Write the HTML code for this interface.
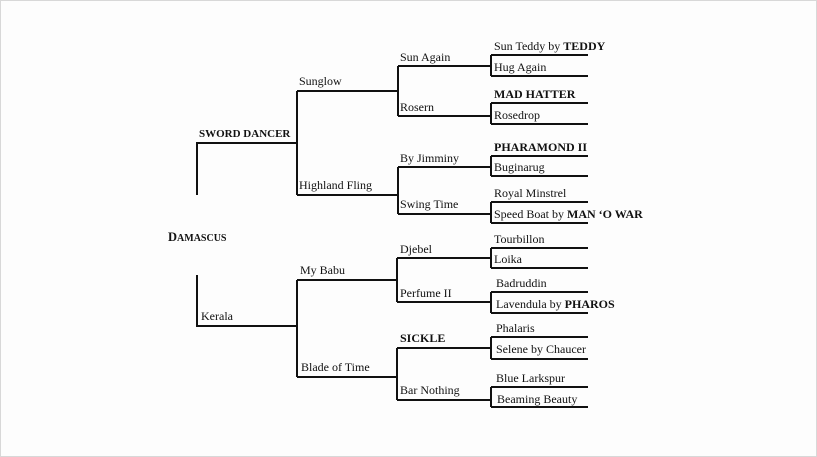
<!DOCTYPE html>
<html><head><meta charset="utf-8"><style>
html,body{margin:0;padding:0;background:#fdfdfd;}
svg{display:block;}
text{font-family:"Liberation Serif",serif;font-size:12px;fill:#111;}
.b{font-weight:bold;}
</style></head><body>
<svg width="817" height="457" viewBox="0 0 817 457" xmlns="http://www.w3.org/2000/svg">
<rect x="0.5" y="0.5" width="816" height="456" fill="#fdfdfd" stroke="#d8d8d8"/>
<g stroke="#111" stroke-width="2" fill="none">
<polyline points="197,195 197,143 297,143"/>
<polyline points="197,275 197,326 297,326"/>
<polyline points="398,66 398,116"/>
<polyline points="297,91 297,195"/>
<line x1="297" y1="91" x2="398" y2="91"/>
<line x1="297" y1="195" x2="398" y2="195"/>
<polyline points="297,280 297,377"/>
<line x1="297" y1="280" x2="397" y2="280"/>
<line x1="297" y1="377" x2="397" y2="377"/>
<line x1="398" y1="167" x2="398" y2="214"/>
<line x1="397" y1="258" x2="397" y2="302"/>
<line x1="397" y1="348" x2="397" y2="400"/>
<line x1="398" y1="66" x2="491" y2="66"/>
<line x1="398" y1="116" x2="491" y2="116"/>
<line x1="398" y1="167" x2="491" y2="167"/>
<line x1="398" y1="214" x2="491" y2="214"/>
<line x1="397" y1="258" x2="491" y2="258"/>
<line x1="397" y1="302" x2="491" y2="302"/>
<line x1="397" y1="348" x2="491" y2="348"/>
<line x1="397" y1="400" x2="491" y2="400"/>
<line x1="491" y1="55" x2="491" y2="76"/>
<line x1="491" y1="103" x2="491" y2="124"/>
<line x1="491" y1="156" x2="491" y2="176"/>
<line x1="491" y1="202" x2="491" y2="223"/>
<line x1="491" y1="248" x2="491" y2="268"/>
<line x1="491" y1="292" x2="491" y2="313"/>
<line x1="491" y1="337" x2="491" y2="359"/>
<line x1="491" y1="387" x2="491" y2="407"/>
<line x1="491" y1="55" x2="588" y2="55"/>
<line x1="491" y1="76" x2="588" y2="76"/>
<line x1="491" y1="103" x2="588" y2="103"/>
<line x1="491" y1="124" x2="588" y2="124"/>
<line x1="491" y1="156" x2="588" y2="156"/>
<line x1="491" y1="176" x2="588" y2="176"/>
<line x1="491" y1="202" x2="588" y2="202"/>
<line x1="491" y1="223" x2="588" y2="223"/>
<line x1="491" y1="248" x2="588" y2="248"/>
<line x1="491" y1="268" x2="588" y2="268"/>
<line x1="491" y1="292" x2="588" y2="292"/>
<line x1="491" y1="313" x2="588" y2="313"/>
<line x1="491" y1="337" x2="588" y2="337"/>
<line x1="491" y1="359" x2="588" y2="359"/>
<line x1="491" y1="387" x2="588" y2="387"/>
<line x1="491" y1="407" x2="588" y2="407"/>
</g>
<text x="168" y="241" class="b" style="font-size:12.5px">D<tspan style="font-size:10px">AMASCUS</tspan></text>
<text x="199" y="137" class="b" style="font-size:11px">SWORD DANCER</text>
<text x="201" y="320">Kerala</text>
<text x="299" y="85">Sunglow</text>
<text x="299" y="189">Highland Fling</text>
<text x="300" y="274">My Babu</text>
<text x="301" y="371">Blade of Time</text>
<text x="400" y="61">Sun Again</text>
<text x="400" y="111">Rosern</text>
<text x="400" y="162">By Jimminy</text>
<text x="400" y="208">Swing Time</text>
<text x="400" y="253">Djebel</text>
<text x="400" y="297">Perfume II</text>
<text x="400" y="342" class="b">SICKLE</text>
<text x="400" y="394">Bar Nothing</text>
<text x="494" y="50">Sun Teddy by <tspan class="b">TEDDY</tspan></text>
<text x="494" y="71">Hug Again</text>
<text x="494" y="98" class="b">MAD HATTER</text>
<text x="494" y="119">Rosedrop</text>
<text x="494" y="151" class="b">PHARAMOND II</text>
<text x="494" y="171">Buginarug</text>
<text x="494" y="197">Royal Minstrel</text>
<text x="494" y="218">Speed Boat by <tspan class="b">MAN ‘O WAR</tspan></text>
<text x="494" y="243">Tourbillon</text>
<text x="494" y="263">Loika</text>
<text x="496" y="287">Badruddin</text>
<text x="496" y="308">Lavendula by <tspan class="b">PHAROS</tspan></text>
<text x="496" y="332">Phalaris</text>
<text x="496" y="353">Selene by Chaucer</text>
<text x="496" y="382">Blue Larkspur</text>
<text x="497" y="403">Beaming Beauty</text>
</svg>
</body></html>
